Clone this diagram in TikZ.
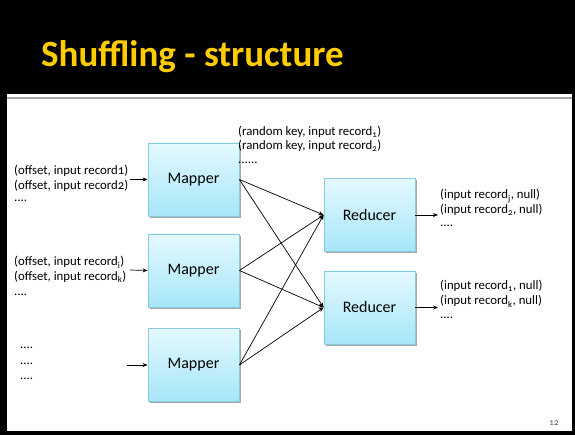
\documentclass[tikz,border=0pt]{standalone}
\usepackage{fontspec}
\setmainfont{Carlito}[Numbers=OldStyle]
\usetikzlibrary{arrows.meta,shadows}
\definecolor{titleyellow}{HTML}{FFCC00}
\definecolor{boxtop}{HTML}{E4F9FE}
\definecolor{boxbot}{HTML}{A6E6F8}
\definecolor{boxedge}{HTML}{8CCBDD}
\definecolor{pagegray}{HTML}{595959}
\tikzset{
  procbox/.style={draw=boxedge, line width=0.8pt, top color=boxtop, bottom color=boxbot,
    minimum width=91pt, minimum height=73pt, inner sep=0pt, font=\fontsize{16}{18}\selectfont,
    drop shadow={shadow xshift=1.5pt, shadow yshift=-1.8pt, opacity=0.35, fill=black}},
  lbl/.style={anchor=base west, inner sep=0pt, font=\fontsize{12.8}{14}\selectfont},
  conn/.style={line width=0.7pt, -{Stealth[length=5pt,width=4pt]}},
}
\begin{document}
\begin{tikzpicture}[x=1pt,y=-1pt]
\useasboundingbox (0,0) rectangle (575,435);
\fill[black] (0,0) rectangle (575,435);
\fill[white] (7,94) rectangle (572,431);
\draw[gray!70, line width=1.5pt] (7,98) -- (572,98);
\node[anchor=base west, inner sep=0pt, text=titleyellow, font=\fontsize{37}{40}\bfseries] (title) at (41,67) {Shuffling - structure};

\node[procbox] (m1) at (193.5,179.5) {Mapper};
\node[procbox] (m2) at (193.5,270.5) {Mapper};
\node[procbox] (m3) at (193.5,365) {Mapper};
\node[procbox] (r1) at (369.5,215) {Reducer};
\node[procbox] (r2) at (369.5,307.5) {Reducer};

% input labels
\node[lbl] (a1) at (14,175) {(offset, input record1)};
\node[lbl] (a2) at (14,189.5) {(offset, input record2)};
\node[lbl] (a3) at (14,202) {....};
\node[lbl] (b1) at (14,266) {(offset, input record\textsubscript{i})};
\node[lbl] (b2) at (14,280.5) {(offset, input record\textsubscript{k})};
\node[lbl] (b3) at (14,295) {....};
\node[lbl] (c1) at (20,348) {....};
\node[lbl] (c2) at (20,364) {....};
\node[lbl] (c3) at (20,379) {....};
% random key labels
\node[lbl] (k1) at (238,135.5) {(random key, input record\textsubscript{1})};
\node[lbl] (k2) at (238,150) {(random key, input record\textsubscript{2})};
\node[lbl] (k3) at (238,163.5) {......};
% output labels
\node[lbl] (o1) at (440,199) {(input record\textsubscript{j}, null)};
\node[lbl] (o2) at (440,213.5) {(input record\textsubscript{2}, null)};
\node[lbl] (o3) at (440,227) {....};
\node[lbl] (p1) at (440,290) {(input record\textsubscript{1}, null)};
\node[lbl] (p2) at (440,305) {(input record\textsubscript{k}, null)};
\node[lbl] (p3) at (440,319) {....};

\node[anchor=center, inner sep=0pt, text=pagegray, font=\fontsize{9}{10}\selectfont] (pg) at (554,423) {12};

\coordinate (ia) at (130,179.5);
\coordinate (ib) at (130,270);
\coordinate (ic) at (127,365);
\coordinate (oa) at (438,215);
\coordinate (ob) at (438,307.5);

\draw[conn] (ia) -- (m1.west);
\draw[conn] (ib) -- (m2.west);
\draw[conn] (ic) -- (m3.west);
\foreach \m in {m1,m2,m3}{
  \draw[conn] (\m.east) -- (r1.west);
  \draw[conn] (\m.east) -- (r2.west);
}
\draw[conn] (r1.east) -- (oa);
\draw[conn] (r2.east) -- (ob);
\end{tikzpicture}
\end{document}
